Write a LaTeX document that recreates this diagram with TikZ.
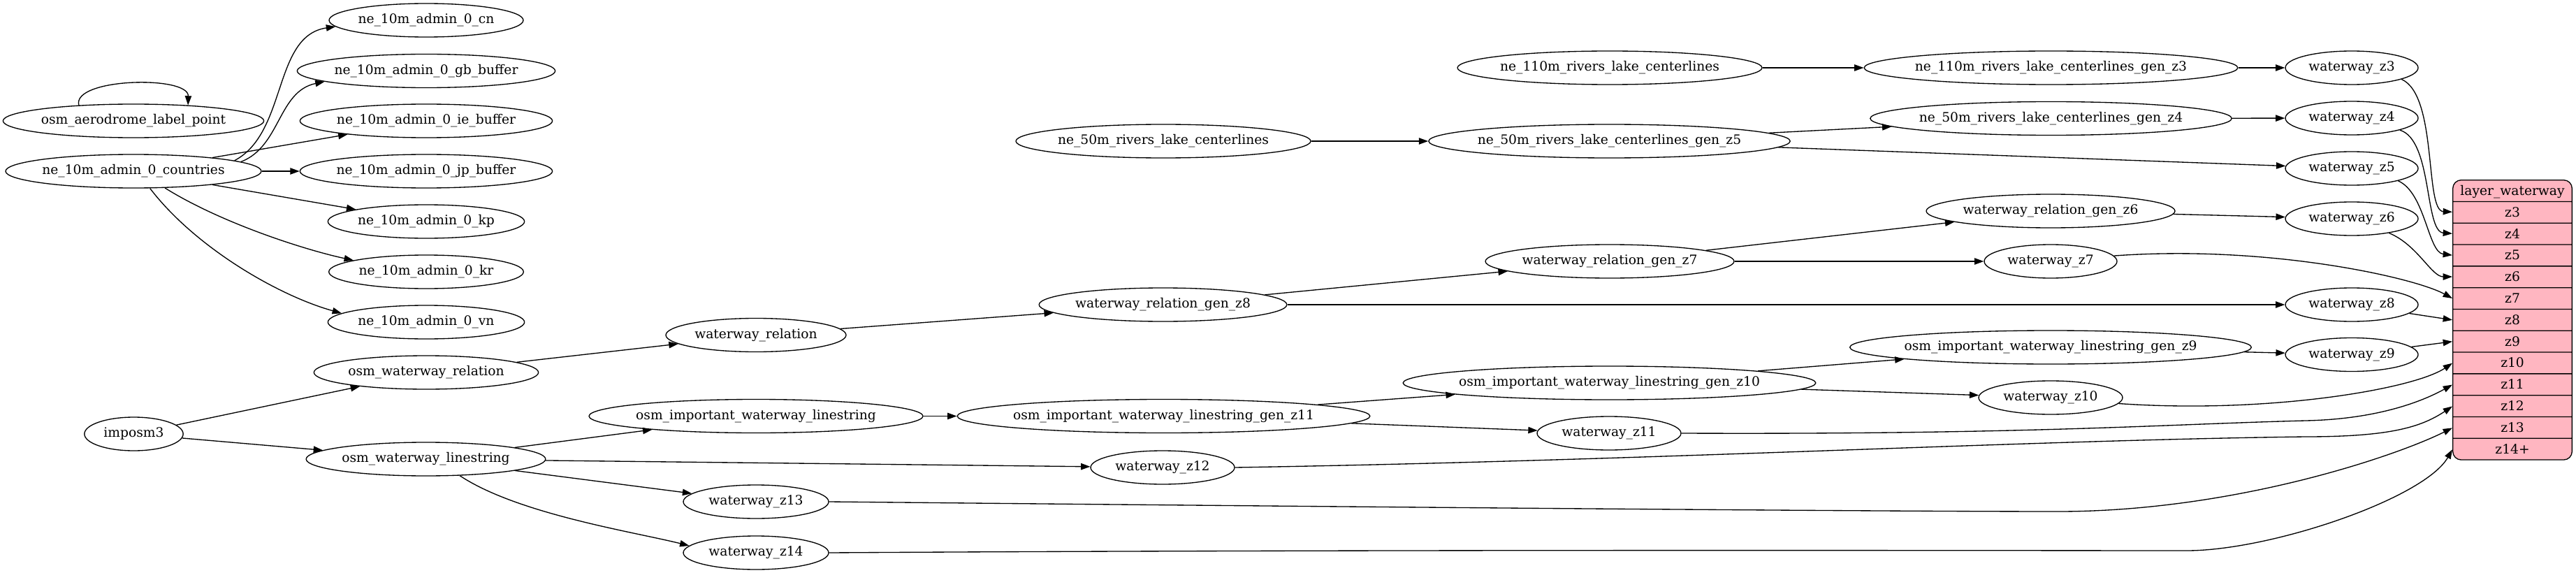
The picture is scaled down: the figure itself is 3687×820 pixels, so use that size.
\documentclass[tikz,border=0pt]{standalone}
\usepackage{fontspec}
\setmainfont{DejaVu Serif}
\usepackage{tikz}
\usetikzlibrary{arrows.meta,calc,shapes.geometric,shapes.multipart}
\definecolor{recpink}{HTML}{FFB6C1}
\newcommand{\rowstrut}{\rule[-6.3pt]{0pt}{22.1pt}}

\begin{document}
\begin{tikzpicture}[x=0.75pt,y=-0.75pt,
    every node/.style={font=\fontsize{14pt}{16pt}\selectfont},
    main node/.style={ellipse,draw,line width=1pt,minimum height=36pt,minimum width=#1,inner sep=0pt,
        execute at begin node={\hbox to 0pt\bgroup\hss},execute at end node={\hss\egroup}},
    rec node/.style={rectangle split,rectangle split parts=13,draw,line width=1pt,fill=recpink,
        rounded corners=9pt,minimum width=128pt,inner xsep=8pt,inner ysep=0pt},
    arr/.style={-{Triangle[length=10pt,width=7pt]},line width=1pt}]
\useasboundingbox (0,0) rectangle (3687,820);
        %nodes
        \node[main node=280pt] (aero) at (191,173) {osm\_aerodrome\_label\_point};
        \node[main node=274.5pt] (cnt) at (191,245) {ne\_10m\_admin\_0\_countries};
        \node[main node=106pt] (imp) at (191.5,621) {imposm3};

        \node[main node=208.5pt] (cn) at (610,29) {ne\_10m\_admin\_0\_cn};
        \node[main node=277pt] (gb) at (610,101.5) {ne\_10m\_admin\_0\_gb\_buffer};
        \node[main node=271pt] (ie) at (610,173) {ne\_10m\_admin\_0\_ie\_buffer};
        \node[main node=271pt] (jp) at (610,245) {ne\_10m\_admin\_0\_jp\_buffer};
        \node[main node=211pt] (kp) at (610,317) {ne\_10m\_admin\_0\_kp};
        \node[main node=209pt] (kr) at (610,389) {ne\_10m\_admin\_0\_kr};
        \node[main node=211pt] (vn) at (610,461) {ne\_10m\_admin\_0\_vn};
        \node[main node=241pt] (owrel) at (610,533) {osm\_waterway\_relation};
        \node[main node=257pt] (owls) at (609.5,657) {osm\_waterway\_linestring};

        \node[main node=193.5pt] (wrel) at (1082,479.5) {waterway\_relation};
        \node[main node=358.5pt] (oiwl) at (1082,595.5) {osm\_important\_waterway\_linestring};
        \node[main node=156pt] (wz13) at (1082,718) {waterway\_z13};
        \node[main node=156pt] (wz14) at (1082,791) {waterway\_z14};

        \node[main node=316.5pt] (ne50) at (1665,202) {ne\_50m\_rivers\_lake\_centerlines};
        \node[main node=266pt] (wrg8) at (1664.5,436) {waterway\_relation\_gen\_z8};
        \node[main node=443pt] (oig11) at (1665.5,595.5) {osm\_important\_waterway\_linestring\_gen\_z11};
        \node[main node=154.5pt] (wz12) at (1664,669) {waterway\_z12};

        \node[main node=327pt] (ne110) at (2304,97) {ne\_110m\_rivers\_lake\_centerlines};
        \node[main node=388pt] (ne50g5) at (2303.5,202) {ne\_50m\_rivers\_lake\_centerlines\_gen\_z5};
        \node[main node=267pt] (wrg7) at (2304,374) {waterway\_relation\_gen\_z7};
        \node[main node=443pt] (oig10) at (2303.5,548) {osm\_important\_waterway\_linestring\_gen\_z10};
        \node[main node=154.5pt] (wz11) at (2303,620) {waterway\_z11};

        \node[main node=401pt] (ne110g3) at (2935.5,97) {ne\_110m\_rivers\_lake\_centerlines\_gen\_z3};
        \node[main node=388pt] (ne50g4) at (2935.5,169.5) {ne\_50m\_rivers\_lake\_centerlines\_gen\_z4};
        \node[main node=267pt] (wrg6) at (2935,302) {waterway\_relation\_gen\_z6};
        \node[main node=142.5pt] (wz7) at (2935,374) {waterway\_z7};
        \node[main node=431pt] (oig9) at (2935,497) {osm\_important\_waterway\_linestring\_gen\_z9};
        \node[main node=154.5pt] (wz10) at (2935,569) {waterway\_z10};

        \node[main node=142.5pt] (wz3) at (3366,97) {waterway\_z3};
        \node[main node=142.5pt] (wz4) at (3366,169) {waterway\_z4};
        \node[main node=142.5pt] (wz5) at (3366,241) {waterway\_z5};
        \node[main node=142.5pt] (wz6) at (3366,313) {waterway\_z6};
        \node[main node=142.5pt] (wz8) at (3366,436) {waterway\_z8};
        \node[main node=142.5pt] (wz9) at (3366,507.5) {waterway\_z9};

        \node[rec node,anchor=north west] (lw) at (3510,257) {\rowstrut layer\_waterway%
            \nodepart{two}\rowstrut z3\nodepart{three}\rowstrut z4\nodepart{four}\rowstrut z5%
            \nodepart{five}\rowstrut z6\nodepart{six}\rowstrut z7\nodepart{seven}\rowstrut z8%
            \nodepart{eight}\rowstrut z9\nodepart{nine}\rowstrut z10\nodepart{ten}\rowstrut z11%
            \nodepart{eleven}\rowstrut z12\nodepart{twelve}\rowstrut z13\nodepart{thirteen}\rowstrut z14+};
        \foreach \z [count=\i] in {3,...,14}
            \coordinate (p\z) at ($(lw.north west)!{(\i+0.5)/13}!(lw.south west)$);

        %Edges
        \draw[arr] (aero.164) .. controls +(-10,-39) and +(1,-43) .. (aero.16);

        \draw[arr] (cnt.6) .. controls +(76,-40) and +(-90,13) .. (cn.184);
        \draw[arr] (cnt.5) .. controls +(57,-22) and +(-67,14) .. (gb.186);
        \path (cnt) edge[arr] (ie) (cnt) edge[arr] (jp) (cnt) edge[arr] (kp);
        \draw[arr] (cnt.-28) .. controls +(80,50) and +(-70,-15) .. (kr.171);
        \draw[arr] (cnt.-46) .. controls +(65,85) and +(-90,-25) .. (vn.174);

        \path (imp) edge[arr] (owrel) (imp) edge[arr] (owls);
        \path (owrel) edge[arr] (wrel);
        \path (wrel) edge[arr] (wrg8);
        \path (wrg8) edge[arr] (wrg7) (wrg8) edge[arr] (wz8);
        \path (wrg7) edge[arr] (wrg6) (wrg7) edge[arr] (wz7);
        \path (wrg6) edge[arr] (wz6);

        \path (owls) edge[arr] (oiwl) (owls) edge[arr] (wz12) (owls) edge[arr] (wz13);
        \draw[arr] (owls.-26) .. controls +(83,55) and +(-80,-20) .. (wz14.174);
        \path (oiwl) edge[arr] (oig11);
        \path (oig11) edge[arr] (oig10) (oig11) edge[arr] (wz11);
        \path (oig10) edge[arr] (oig9) (oig10) edge[arr] (wz10);
        \path (oig9) edge[arr] (wz9);

        \path (ne110) edge[arr] (ne110g3) (ne110g3) edge[arr] (wz3);
        \path (ne50) edge[arr] (ne50g5);
        \path (ne50g5) edge[arr] (ne50g4) (ne50g5) edge[arr] (wz5);
        \path (ne50g4) edge[arr] (wz4);

        \draw[arr] (wz3.-13) .. controls +(52,23) and +(-40,-2) .. (p3);
        \draw[arr] (wz4.-14) .. controls +(47,14) and +(-40,-3) .. (p4);
        \draw[arr] (wz5.-15) .. controls +(39,17) and +(-35,-4) .. (p5);
        \draw[arr] (wz6.-21) .. controls +(41,17) and +(-30,0) .. (p6);
        \draw[arr] (wz7.5) .. controls +(220,-16) and +(-55,-30) .. (p7);
        \path (wz8) edge[arr] (p8) (wz9) edge[arr] (p9);
        \draw[arr] (wz10.-5) .. controls +(215,15) and +(-55,37) .. (p10);
        \draw[arr] (wz11.east) .. controls +(500,2) and +(-200,5) .. (3300,602)
            .. controls +(100,-2) and +(-45,25) .. (p11);
        \draw[arr] (wz12.east) .. controls +(600,-10) and +(-400,5) .. (3300,625)
            .. controls +(120,0) and +(-45,30) .. (p12);
        \draw[arr] (wz13.east) .. controls +(800,8) and +(-250,0) .. (2950,732)
            .. controls +(250,-1) and +(-80,40) .. (p13);
        \draw[arr] (wz14.east) .. controls +(800,-5) and +(-200,0) .. (3130,788)
            .. controls +(120,0) and +(-40,70) .. (p14);
\end{tikzpicture}
\end{document}
